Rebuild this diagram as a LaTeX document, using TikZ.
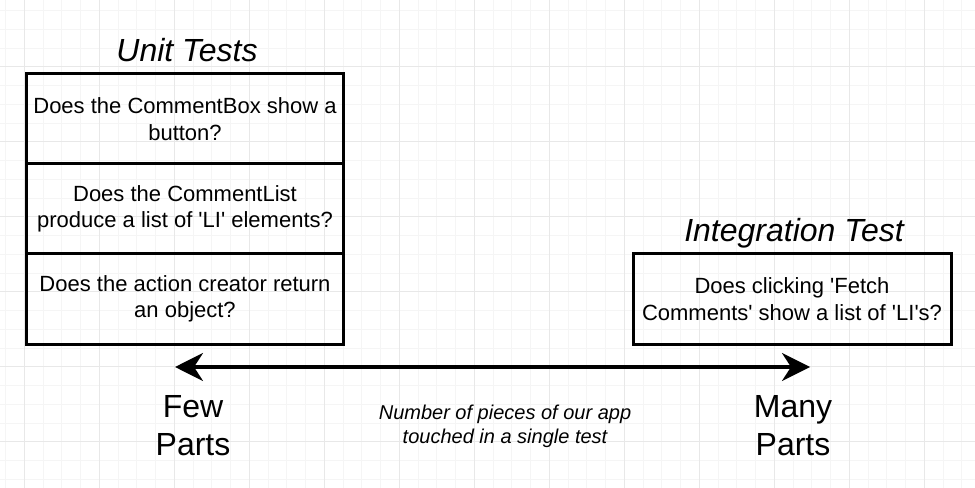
\documentclass[tikz,border=0pt]{standalone}
\usepackage{fontspec}
\setmainfont{Liberation Sans}[Ligatures=TeXOff]
\usetikzlibrary{arrows.meta}
\begin{document}
\begin{tikzpicture}[x=1bp,y=-1bp,
  cell/.style={draw=black, line width=3bp, minimum width=317bp, minimum height=90bp, inner sep=0pt, align=center, font=\fontsize{22bp}{26.5bp}\selectfont},
  ttl/.style={font=\fontsize{32bp}{38bp}\selectfont\itshape, inner sep=0pt, anchor=base},
  ends/.style={font=\fontsize{32bp}{38bp}\selectfont, align=center, inner sep=0pt},
  note/.style={font=\fontsize{20bp}{24bp}\selectfont\itshape, align=center, inner sep=0pt},
  minorgrid/.style={draw=black!4, line width=0.8bp},
  majorgrid/.style={draw=black!9, line width=1bp},
  axis/.style={line width=4bp, {Stealth[length=28bp,width=28bp,inset=9bp]}-{Stealth[length=28bp,width=28bp,inset=9bp]}}
]
\useasboundingbox (0,0) rectangle (975,488);
\fill[white] (0,0) rectangle (975,488);
% grid
\foreach \i in {0,...,51} {
  \pgfmathsetmacro\xx{5.55+18.75*\i}
  \draw[minorgrid] (\xx,0) -- (\xx,488);
}
\foreach \i in {0,...,25} {
  \pgfmathsetmacro\yy{10.45+18.75*\i}
  \draw[minorgrid] (0,\yy) -- (975,\yy);
}
\foreach \i in {0,...,12} {
  \pgfmathsetmacro\xx{24.3+75*\i}
  \draw[majorgrid] (\xx,0) -- (\xx,488);
}
\foreach \i in {0,...,5} {
  \pgfmathsetmacro\yy{66.7+75*\i}
  \draw[majorgrid] (0,\yy) -- (975,\yy);
}
% titles
\node[ttl] (unit) at (187,62) {Unit Tests};
\node[ttl] (integ) at (794,242) {Integration Test};
% unit test cells
\node[cell] (c1) at (185,119) {Does the CommentBox show a\\button?};
\node[cell] (c2) at (185,209) {Does the CommentList\\produce a list of 'LI' elements?};
\node[cell] (c3) at (185,299) {Does the action creator return\\an object?};
% integration box
\node[cell, minimum width=318bp] (i1) at (792,299) {Does clicking 'Fetch\\Comments' show a list of 'LI's?};
% axis
\coordinate (lt) at (175,367);
\coordinate (rt) at (810,367);
\draw[axis] (lt) -- (rt);
% labels
\node[ends] (few) at (193,425.5) {Few\\Parts};
\node[ends] (many) at (793,425.5) {Many\\Parts};
\node[note] (num) at (505,426) {Number of pieces of our app\\touched in a single test};
\end{tikzpicture}
\end{document}
